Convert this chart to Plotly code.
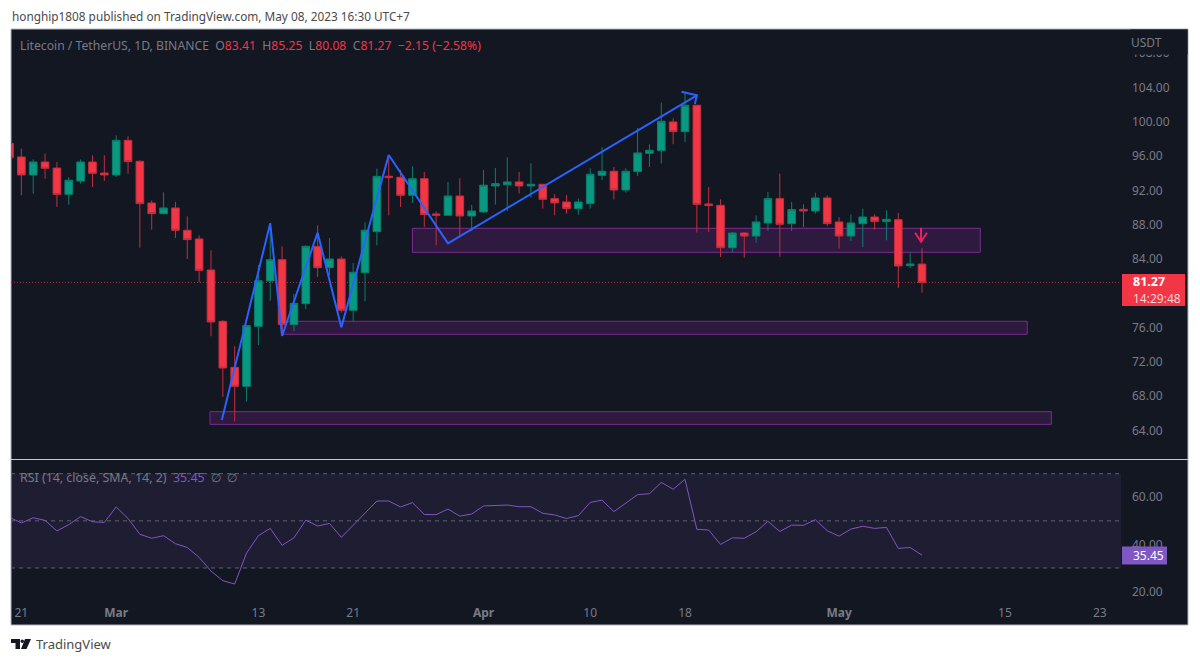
import pandas as pd
import plotly.graph_objects as go

dates = pd.date_range("2023-02-20", "2023-05-08", freq="D")

opens = [97.49,95.90,93.80,95.31,94.61,91.54,93.10,95.31,94.03,
 93.80,97.84,95.39,90.53,89.29,89.95,87.35,86.34,82.72,76.73,71.37,69.15,76.15,81.44,83.92,76.35,78.79,85.48,82.99,84.00,78.02,82.41,87.19,93.65,93.53,91.43,93.37,89.25,89.10,91.35,89.02,
 89.49,92.52,92.67,92.99,92.52,92.71,91.04,90.65,89.88,90.46,93.76,94.23,92.05,94.19,96.33,96.64,99.98,98.85,101.93,90.42,90.26,85.32,87.03,86.68,88.20,91.04,88.12,89.79,89.60,91.12,
 88.32,86.68,88.12,88.90,88.36,88.59,83.23,83.41]
highs = [97.70,96.87,95.62,96.29,95.31,93.53,95.62,96.09,96.09,
 98.42,98.31,95.51,90.84,91.78,90.65,88.98,86.76,85.01,76.89,73.82,76.23,83.30,88.16,85.48,79.92,85.60,87.93,86.45,84.31,83.54,88.28,94.54,96.13,94.39,94.81,94.15,89.56,92.99,93.41,90.30,
 94.39,94.62,95.86,94.15,95.16,92.71,91.55,91.47,91.04,94.58,97.03,94.73,94.58,99.28,97.38,102.24,100.41,103.44,101.93,92.40,90.96,87.15,87.15,89.09,91.82,93.95,90.65,90.38,91.74,91.43,
 88.90,89.21,89.87,89.21,89.68,89.37,84.74,85.25]
lows = [95.30,91.43,91.62,93.37,90.07,90.34,92.79,92.40,93.10,
 93.56,93.95,85.32,87.42,89.21,86.45,84.00,81.28,74.99,67.91,65.03,67.37,73.97,79.14,75.02,75.57,78.17,81.90,82.10,77.74,76.69,79.07,85.60,89.10,90.07,90.54,87.74,85.60,89.02,86.69,87.27,
 89.37,90.34,89.60,91.63,91.16,89.88,89.10,89.29,89.18,89.88,93.22,90.93,91.74,93.69,94.73,95.12,97.38,97.65,87.08,87.16,84.24,84.82,84.16,85.91,87.27,84.27,87.27,87.73,89.29,87.85,
 85.21,86.10,85.40,87.42,86.18,80.62,82.95,80.08]
closes = [95.82,93.80,95.31,94.58,91.54,93.18,95.31,93.99,93.80,
 97.84,95.35,90.46,89.29,89.95,87.35,86.26,82.68,76.66,71.29,69.15,76.23,81.47,83.92,76.35,78.83,85.48,82.99,84.00,78.02,82.45,87.35,93.64,93.49,91.43,93.37,89.18,89.10,91.35,89.02,89.60,
 92.60,92.79,92.99,92.52,92.71,90.96,90.54,89.88,90.65,93.88,94.23,92.05,94.23,96.37,96.68,100.06,98.85,101.93,90.38,90.23,85.32,87.03,86.68,88.32,91.04,88.05,89.76,89.60,91.12,88.12,
 86.68,88.20,88.90,88.36,88.63,83.19,83.42,81.27]
rsi = [51.5,49.1,51.3,50.2,45.7,48.4,51.8,49.6,49.3,
 55.9,51.0,44.3,42.6,43.7,40.3,38.7,34.5,28.7,24.6,23.2,36.3,43.7,46.8,39.6,42.8,50.3,47.8,48.9,43.0,48.0,53.2,58.4,58.4,55.9,57.7,52.7,52.6,55.0,52.0,52.9,
 56.3,56.4,56.7,56.0,56.0,53.2,52.5,51.0,52.2,57.8,58.8,53.9,57.4,61.1,61.5,66.3,63.4,67.6,46.4,46.1,40.0,42.8,42.6,45.4,49.8,45.5,48.2,48.1,50.5,45.8,
 43.5,46.5,47.7,46.8,47.2,38.3,38.7,35.45]

price_ticks = [64,68,72,76,84,88,92,96,100,104,108]
rsi_ticks = [20,40,60]
time_ticks = ["2023-02-21","2023-03-01","2023-03-13","2023-03-21","2023-04-01","2023-04-10","2023-04-18","2023-05-01","2023-05-15","2023-05-23"]
time_labels = ["21","<b>Mar</b>","13","21","<b>Apr</b>","10","18","<b>May</b>","15","23"]

wave_x = ["2023-03-09 22:00","2023-03-14","2023-03-15","2023-03-18","2023-03-20","2023-03-24","2023-03-29","2023-04-19"]
wave_y = [65.22,88.16,75.02,87.07,76.03,96.13,85.83,103.09]
head_x = ["2023-04-17 17:00","2023-04-19","2023-04-18 20:00"]
head_y = [103.51,103.09,102.08]
pink_x = ["2023-05-07 10:00","2023-05-07 22:00","2023-05-08 10:00"]
zones = [("2023-03-26","2023-05-12 22:00",84.78,87.58),
         ("2023-03-15","2023-05-16 21:00",75.22,76.74),
         ("2023-03-08 22:00","2023-05-18 22:00",64.72,66.20)]

W, H = 1200, 662
GREEN, RED, BG, GREY, PURPLE = "#089981", "#f23645", "#131722", "#787b86", "#7e57c2"
FONT = "Noto Sans"
px = lambda v: v / W
py = lambda v: 1 - v / H

fig = go.Figure()
fig.add_trace(go.Candlestick(x=dates, open=opens, high=highs, low=lows, close=closes,
    increasing=dict(fillcolor=GREEN, line=dict(color="#0a7f6c", width=1)),
    decreasing=dict(fillcolor=RED, line=dict(color="#c22f40", width=1)),
    whiskerwidth=0, hoverinfo="skip", showlegend=False, xaxis="x", yaxis="y"))
fig.add_trace(go.Scatter(x=wave_x, y=wave_y, mode="lines", line=dict(color="#2962ff", width=2), hoverinfo="skip", showlegend=False, yaxis="y"))
fig.add_trace(go.Scatter(x=head_x, y=head_y, mode="lines", line=dict(color="#2962ff", width=2), hoverinfo="skip", showlegend=False, yaxis="y"))
fig.add_trace(go.Scatter(x=[pink_x[1], pink_x[1]], y=[87.65, 86.02], mode="lines", line=dict(color="#e91e63", width=2), hoverinfo="skip", showlegend=False, yaxis="y"))
fig.add_trace(go.Scatter(x=pink_x, y=[87.07, 86.02, 87.07], mode="lines", line=dict(color="#e91e63", width=2), hoverinfo="skip", showlegend=False, yaxis="y"))
fig.add_trace(go.Scatter(x=dates, y=rsi, mode="lines", line=dict(color=PURPLE, width=1), hoverinfo="skip", showlegend=False, yaxis="y2"))

shapes = [
    dict(type="rect", xref="paper", yref="paper", x0=px(11), x1=px(1188), y0=py(625), y1=py(29),
         fillcolor=BG, line=dict(color="#b2b5be", width=1), layer="below"),
    dict(type="line", xref="paper", yref="paper", x0=px(11), x1=px(1188), y0=py(459.5), y1=py(459.5),
         line=dict(color="#c8cad0", width=1), layer="below"),
    dict(type="rect", xref="x domain", yref="y2", x0=0, x1=1, y0=30, y1=70,
         fillcolor="rgba(126,87,194,0.1)", line=dict(width=0), layer="below"),
    dict(type="line", xref="x domain", yref="y", x0=0, x1=1, y0=81.27, y1=81.27,
         line=dict(color="#b52b3b", width=1, dash="1px,2px"), layer="below"),
]
for v in (70, 50, 30):
    shapes.append(dict(type="line", xref="x domain", yref="y2", x0=0, x1=1, y0=v, y1=v,
                       line=dict(color="#5f626d", width=1, dash="4px,4px"), layer="below"))
for x0, x1, y0, y1 in zones:
    shapes.append(dict(type="rect", xref="x", yref="y", x0=x0, x1=x1, y0=y0, y1=y1,
                       fillcolor="rgba(156,39,176,0.2)", line=dict(color="#7e2a92", width=1), layer="below"))
# value labels on the scales
shapes.append(dict(type="rect", xref="paper", yref="paper", x0=px(1122), x1=px(1185), y0=py(306), y1=py(274),
                   fillcolor=RED, line=dict(width=0), layer="above"))
shapes.append(dict(type="rect", xref="paper", yref="paper", x0=px(1122), x1=px(1167), y0=py(564.5), y1=py(546.5),
                   fillcolor=PURPLE, line=dict(width=0), layer="above"))
# TradingView logo
def pth(points):
    return "M" + " L".join(f"{px(a)},{py(b)}" for a, b in points) + " Z"
shapes.append(dict(type="path", xref="paper", yref="paper",
                   path=pth([(11,639),(20,639),(20,649),(15.5,649),(15.5,643),(11,643)]),
                   fillcolor="#131722", line=dict(width=0)))
shapes.append(dict(type="path", xref="paper", yref="paper",
                   path=pth([(25,639),(31,639),(26.5,649),(21,649)]),
                   fillcolor="#131722", line=dict(width=0)))
shapes.append(dict(type="circle", xref="paper", yref="paper", x0=px(20.5), x1=px(24), y0=py(643), y1=py(639.5),
                   fillcolor="#131722", line=dict(width=0)))

def label(x, y, text, color=GREY, size=12, **kw):
    d = dict(xref="paper", yref="paper", x=px(x), y=py(y), text=text, showarrow=False, xanchor="left",
             yanchor="middle", font=dict(family=FONT, size=size, color=color), borderpad=0)
    d.update(kw)
    return d

def rd(t):
    return f"<span style='color:{RED}'>{t}</span>"

annotations = [
    label(11, 16, "honghip1808 published on TradingView.com, May 08, 2023 16:30 UTC+7", color="#4a4a4a", size=11.8),
    label(18.5, 45, "Litecoin / TetherUS, 1D, BINANCE  O" + rd("83.41") + "  H" + rd("85.25") + "  L" + rd("80.08") + "  C" + rd("81.27") + "  " + rd("−2.15 (−2.58%)"), size=12.2),
    label(18.5, 477, "RSI (14, close, SMA, 14, 2)  " + f"<span style='color:{PURPLE}'>35.45</span>" + "  ∅  ∅", size=12.4),
    label(1130, 42, "USDT", size=12, width=56, height=24, bgcolor=BG, align="left"),
    label(1132, 281.5, "<b>81.27</b>", color="#ffffff", size=12.5),
    label(1132, 298, "14:29:48", color="#ffd3d8", size=12),
    label(1132, 555.5, "35.45", color="#ffffff", size=12),
    label(35, 644, "TradingView", color="#4a4a4a", size=13),
]

def dom(top, bottom):
    return [1 - bottom / H, 1 - top / H]

fig.update_layout(
    width=W, height=H, margin=dict(l=0, r=0, t=0, b=0),
    paper_bgcolor="#ffffff", plot_bgcolor="rgba(0,0,0,0)", boxgap=0.08,
    shapes=shapes, annotations=annotations, showlegend=False, hovermode=False,
    font=dict(family=FONT, size=12, color=GREY),
    xaxis=dict(domain=[11 / W, 1121 / W], anchor="y2", type="date", range=["2023-02-20 03:00", "2023-05-24 19:00"],
               rangeslider=dict(visible=False), showgrid=False, zeroline=False, showline=False, ticks="",
               tickmode="array", tickvals=time_ticks, ticktext=time_labels, ticklabelstandoff=3,
               tickfont=dict(family=FONT, size=12, color=GREY)),
    yaxis=dict(domain=dom(29, 459), range=[60.68, 110.82], side="right", anchor="x", showgrid=False, zeroline=False,
               showline=False, ticks="", tickmode="array", tickvals=price_ticks, ticktext=[f"{v:.2f}" for v in price_ticks],
               ticklabelstandoff=10, tickfont=dict(family=FONT, size=12, color=GREY)),
    yaxis2=dict(domain=dom(460, 601), range=[16, 75.8], side="right", anchor="x", showgrid=False, zeroline=False,
                showline=False, ticks="", tickmode="array", tickvals=rsi_ticks, ticktext=[f"{v:.2f}" for v in rsi_ticks],
                ticklabelstandoff=10, tickfont=dict(family=FONT, size=12, color=GREY)),
)
fig.write_html("out.html", config=dict(displayModeBar=False), post_script="document.body.style.margin='0';")
